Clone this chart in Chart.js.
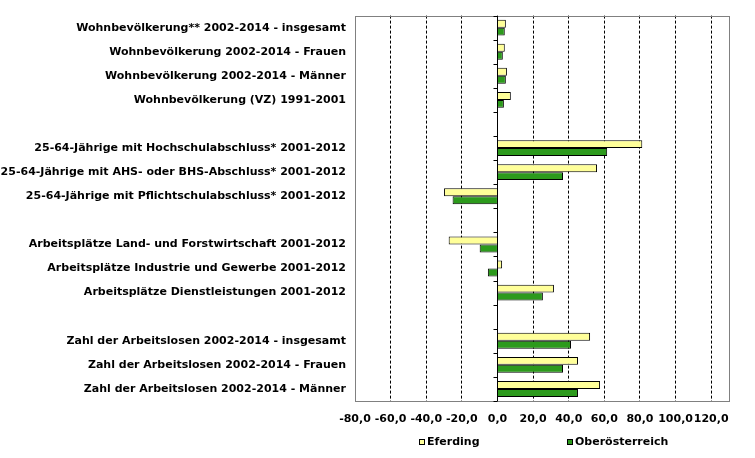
<!DOCTYPE html>
<html>
<head>
<meta charset="utf-8">
<script src="https://cdn.jsdelivr.net/npm/chart.js@4/dist/chart.umd.min.js"></script>
<style>
  html, body { margin: 0; padding: 0; background: #fff; }
  canvas { display: block; }
</style>
</head>
<body>
<canvas id="chart" width="755" height="458"></canvas>
<script>
// Kategorien (leere Einträge = Abstand zwischen den Gruppen)
const categories = [
  "Wohnbevölkerung** 2002-2014 - insgesamt",
  "Wohnbevölkerung 2002-2014 - Frauen",
  "Wohnbevölkerung 2002-2014 - Männer",
  "Wohnbevölkerung (VZ) 1991-2001",
  "",
  "25-64-Jährige mit Hochschulabschluss* 2001-2012",
  "25-64-Jährige mit AHS- oder BHS-Abschluss* 2001-2012",
  "25-64-Jährige mit Pflichtschulabschluss* 2001-2012",
  "",
  "Arbeitsplätze Land- und Forstwirtschaft 2001-2012",
  "Arbeitsplätze Industrie und Gewerbe 2001-2012",
  "Arbeitsplätze Dienstleistungen 2001-2012",
  "",
  "Zahl der Arbeitslosen 2002-2014 - insgesamt",
  "Zahl der Arbeitslosen 2002-2014 - Frauen",
  "Zahl der Arbeitslosen 2002-2014 - Männer",
];

const seriesNames = ["Eferding", "Oberösterreich"];
const eferding = [4.7, 4.1, 5.3, 7.5, null, 81.3, 55.9, -30.0, null, -27.4, 2.6, 31.7, null, 52.0, 45.2, 57.6];
const oberoesterreich = [4.1, 3.0, 4.7, 3.6, null, 61.6, 36.8, -25.2, null, -10.0, -5.4, 25.5, null, 41.3, 36.8, 45.2];

const xMin = -80;
const xMax = 130;
const xStep = 20;

const colors = ["#FFFF99", "#2C9A1C"];
const FONT = "DejaVu Sans";

// Rahmen, Nulllinie, Teilstriche und Legende
const decorations = {
  id: "decorations",
  afterDatasetsDraw(chart) {
    const ctx = chart.ctx;
    const area = chart.chartArea;
    const x = chart.scales.x;

    ctx.save();
    // plot area border
    ctx.strokeStyle = "#808080";
    ctx.lineWidth = 1;
    ctx.strokeRect(Math.round(area.left) + 0.5, Math.round(area.top) + 0.5,
      Math.round(area.right - area.left), Math.round(area.bottom - area.top));

    // zero line
    const x0 = Math.round(x.getPixelForValue(0)) + 0.5;
    ctx.strokeStyle = "#000";
    ctx.beginPath();
    ctx.moveTo(x0, area.top);
    ctx.lineTo(x0, area.bottom);
    // tick marks between categories
    const n = categories.length;
    const h = (area.bottom - area.top) / n;
    for (let i = 0; i <= n; i++) {
      const yy = Math.round(area.top + i * h) + 0.5;
      ctx.moveTo(x0 - 4, yy);
      ctx.lineTo(x0, yy);
    }
    ctx.stroke();

    // legend
    ctx.font = "bold 11px " + FONT;
    ctx.textBaseline = "middle";
    ctx.textAlign = "left";
    const legendY = 442;
    const legendX = [419, 567];
    seriesNames.forEach((name, i) => {
      ctx.fillStyle = colors[i];
      ctx.fillRect(legendX[i], legendY - 3, 6, 6);
      ctx.strokeStyle = "#000";
      ctx.strokeRect(legendX[i] + 0.5, legendY - 3 + 0.5, 5, 5);
      ctx.fillStyle = "#000";
      ctx.fillText(name, legendX[i] + 8, legendY);
    });
    ctx.restore();
  },
};

new Chart(document.getElementById("chart").getContext("2d"), {
  type: "bar",
  data: {
    labels: categories,
    datasets: [
      {
        label: seriesNames[0],
        data: eferding,
        backgroundColor: colors[0],
        borderColor: "#000",
        borderWidth: 1,
      },
      {
        label: seriesNames[1],
        data: oberoesterreich,
        backgroundColor: colors[1],
        borderColor: "#000",
        borderWidth: 1,
      },
    ],
  },
  options: {
    indexAxis: "y",
    responsive: false,
    animation: false,
    categoryPercentage: 0.66,
    barPercentage: 1.0,
    layout: {
      padding: { left: 0, top: 12, right: 26, bottom: 0 },
    },
    plugins: {
      legend: { display: false },
      tooltip: { enabled: false },
    },
    scales: {
      x: {
        min: xMin,
        max: xMax,
        border: { display: false, dash: [3, 2] },
        grid: {
          drawTicks: false,
          color: function (c) {
            const v = c.tick ? c.tick.value : null;
            return v === 0 || v === xMin ? "transparent" : "#000";
          },
        },
        ticks: {
          stepSize: xStep,
          includeBounds: false,
          autoSkip: false,
          maxRotation: 0,
          padding: 12,
          color: "#000",
          font: { family: FONT, size: 11, weight: "bold" },
          callback: function (value) {
            return value.toFixed(1).replace(".", ",");
          },
        },
        afterFit: function (scale) {
          scale.height = 57;
        },
      },
      y: {
        border: { display: false },
        grid: { display: false, drawTicks: false },
        ticks: {
          autoSkip: false,
          padding: 9,
          color: "#000",
          font: { family: FONT, size: 11, weight: "bold" },
        },
        afterFit: function (scale) {
          scale.width = 355;
        },
      },
    },
  },
  plugins: [decorations],
});
</script>
</body>
</html>
